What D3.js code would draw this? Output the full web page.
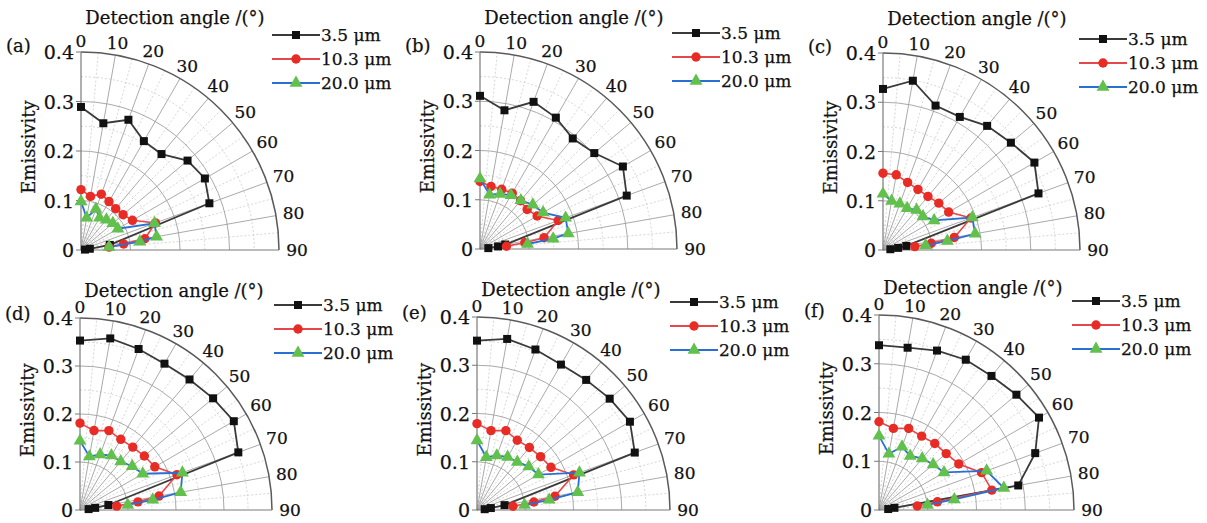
<!DOCTYPE html>
<html>
<head>
<meta charset="utf-8">
<script src="https://cdn.jsdelivr.net/npm/d3@7"></script>
<style>
  body { margin: 0; background: #fff; }
  text { font-family: "DejaVu Serif", serif; fill: #111; stroke: #111; stroke-width: 0.25; }
</style>
</head>
<body>
<svg id="chart" width="1207" height="523"></svg>
<script>
// Detection angles (deg), shared by every series
const angles = [0, 10, 20, 30, 40, 50, 60, 70, 80, 82, 84];
const wavelengths = ["3.5 μm", "10.3 μm", "20.0 μm"];
const panelNames = ["(a)", "(b)", "(c)", "(d)", "(e)", "(f)"];
const angleTicks = [0, 10, 20, 30, 40, 50, 60, 70, 80, 90];
const radialTicks = [0, 0.1, 0.2, 0.3, 0.4];

// Emissivity per panel, rows = 3.5 / 10.3 / 20.0 um
const emisA = [
  [0.289, 0.260, 0.280, 0.254, 0.253, 0.281, 0.289, 0.276, 0.059, 0.018, 0.008],
  [0.122, 0.110, 0.120, 0.113, 0.109, 0.111, 0.120, 0.160, 0.131, 0.087, 0.057],
  [0.098, 0.066, 0.088, 0.075, 0.080, 0.084, 0.086, 0.158, 0.155, 0.120, 0.057]
];
const emisB = [
  [0.311, 0.286, 0.318, 0.308, 0.293, 0.303, 0.335, 0.317, 0.052, 0.037, 0.017],
  [0.137, 0.129, 0.129, 0.131, 0.128, 0.125, 0.134, 0.169, 0.132, 0.092, 0.054],
  [0.143, 0.112, 0.119, 0.126, 0.129, 0.140, 0.148, 0.185, 0.182, 0.150, 0.097]
];
const emisC = [
  [0.327, 0.349, 0.312, 0.312, 0.329, 0.339, 0.355, 0.336, 0.048, 0.031, 0.015],
  [0.156, 0.155, 0.146, 0.142, 0.142, 0.148, 0.154, 0.190, 0.147, 0.099, 0.065],
  [0.114, 0.101, 0.100, 0.098, 0.106, 0.106, 0.120, 0.193, 0.190, 0.132, 0.087]
];
const emisD = [
  [0.353, 0.363, 0.357, 0.352, 0.355, 0.362, 0.370, 0.351, 0.060, 0.032, 0.018],
  [0.181, 0.168, 0.176, 0.170, 0.171, 0.175, 0.180, 0.215, 0.167, 0.122, 0.077],
  [0.144, 0.113, 0.123, 0.131, 0.132, 0.142, 0.151, 0.227, 0.213, 0.153, 0.100]
];
const emisE = [
  [0.351, 0.360, 0.354, 0.348, 0.352, 0.359, 0.366, 0.348, 0.058, 0.029, 0.016],
  [0.179, 0.167, 0.175, 0.167, 0.169, 0.172, 0.177, 0.213, 0.164, 0.119, 0.075],
  [0.144, 0.111, 0.120, 0.127, 0.130, 0.140, 0.147, 0.226, 0.212, 0.151, 0.099]
];
const emisF = [
  [0.338, 0.338, 0.348, 0.356, 0.359, 0.368, 0.379, 0.341, 0.290, 0.032, 0.019],
  [0.181, 0.170, 0.178, 0.175, 0.178, 0.180, 0.189, 0.224, 0.235, 0.121, 0.079],
  [0.152, 0.117, 0.138, 0.128, 0.138, 0.145, 0.154, 0.235, 0.260, 0.156, 0.100]
];

// layout of the six small plots
const panels = [
  { data: emisA, x: 81,  y: 250, R: 198, legX: 272,  legY: 35 },
  { data: emisB, x: 480, y: 249, R: 197, legX: 672,  legY: 33 },
  { data: emisC, x: 883, y: 250, R: 197, legX: 1079, legY: 39 },
  { data: emisD, x: 80,  y: 510, R: 192, legX: 274,  legY: 305 },
  { data: emisE, x: 477, y: 510, R: 193, legX: 670,  legY: 302 },
  { data: emisF, x: 879, y: 510, R: 195, legX: 1072, legY: 301 }
];

const lineColors = ["#3a3a3a", "#e5484a", "#2a6fd3"];
const markColors = ["#111111", "#e82c25", "#62c04c"];
const symbols = [d3.symbolSquare, d3.symbolCircle, d3.symbolTriangle];
const symSizes = [64, 70, 72];

const svg = d3.select("#chart");
const rad = d3.scaleLinear().domain([0, 90]).range([0, Math.PI / 2]);

function quarter(r) {
  const p = d3.path();
  p.moveTo(0, -r);
  p.arc(0, 0, r, -Math.PI / 2, 0);
  return p.toString();
}

panels.forEach(function(pn, i) {
  const rScale = d3.scaleLinear().domain([0, 0.4]).range([0, pn.R]);
  const g = svg.append("g").attr("transform", "translate(" + pn.x + "," + pn.y + ")");

  // dotted minor circles and radial lines
  [0.05, 0.15, 0.25, 0.35].forEach(function(v) {
    g.append("path").attr("d", quarter(rScale(v)))
      .attr("fill", "none").attr("stroke", "#c4c4c4")
      .attr("stroke-width", 0.7).attr("stroke-dasharray", "2,2");
  });
  d3.range(5, 90, 10).forEach(function(a) {
    const p = d3.pointRadial(rad(a), pn.R);
    g.append("line").attr("x1", 0).attr("y1", 0).attr("x2", p[0]).attr("y2", p[1])
      .attr("stroke", "#c4c4c4").attr("stroke-width", 0.7).attr("stroke-dasharray", "2,2");
  });

  // major grid
  [0.1, 0.2, 0.3].forEach(function(v) {
    g.append("path").attr("d", quarter(rScale(v)))
      .attr("fill", "none").attr("stroke", "#a0a0a0").attr("stroke-width", 0.9);
  });
  angleTicks.slice(1, -1).forEach(function(a) {
    const p = d3.pointRadial(rad(a), pn.R);
    g.append("line").attr("x1", 0).attr("y1", 0).attr("x2", p[0]).attr("y2", p[1])
      .attr("stroke", "#a0a0a0").attr("stroke-width", 0.9);
  });

  // outer arc and axes
  g.append("path").attr("d", quarter(pn.R))
    .attr("fill", "none").attr("stroke", "#5a5a5a").attr("stroke-width", 1.5);
  g.append("line").attr("x1", 0).attr("y1", 0).attr("x2", 0).attr("y2", -pn.R)
    .attr("stroke", "#7a7a7a").attr("stroke-width", 1.2);
  g.append("line").attr("x1", 0).attr("y1", 0).attr("x2", pn.R).attr("y2", 0)
    .attr("stroke", "#7a7a7a").attr("stroke-width", 1.2);

  // radial axis ticks + labels
  radialTicks.forEach(function(v) {
    g.append("line").attr("x1", -5).attr("x2", 0)
      .attr("y1", -rScale(v)).attr("y2", -rScale(v))
      .attr("stroke", "#7a7a7a").attr("stroke-width", 1);
    g.append("text").attr("x", -7).attr("y", -rScale(v))
      .attr("text-anchor", "end").attr("dominant-baseline", "central")
      .style("font-size", "19px")
      .text(v === 0 ? "0" : d3.format(".1f")(v));
  });

  // angle labels
  angleTicks.forEach(function(a) {
    const p = d3.pointRadial(rad(a), pn.R + 11 + 7 * Math.sin(rad(a)));
    g.append("text").attr("x", p[0]).attr("y", p[1])
      .attr("text-anchor", "middle").attr("dominant-baseline", "central")
      .style("font-size", "17px").text(a);
  });

  // titles
  g.append("text").attr("x", 94).attr("y", -pn.R - 33 + (i < 3 ? -2 : 5))
    .attr("text-anchor", "middle").attr("dominant-baseline", "central")
    .style("font-size", "18px").text("Detection angle /(°)");
  g.append("text").attr("x", -75).attr("y", -pn.R + 5 + (i < 3 ? -12 : -10))
    .attr("dominant-baseline", "central")
    .style("font-size", "18px").text(panelNames[i]);
  g.append("text")
    .attr("transform", "translate(" + (-53) + "," + (-pn.R * 0.52) + ") rotate(-90)")
    .attr("text-anchor", "middle").attr("dominant-baseline", "central")
    .style("font-size", "18px").text("Emissivity");

  // series
  const line = d3.lineRadial()
    .angle(function(d) { return rad(d[0]); })
    .radius(function(d) { return rScale(d[1]); });

  pn.data.forEach(function(vals, s) {
    const pts = angles.map(function(a, k) { return [a, vals[k]]; });
    g.append("path").datum(pts).attr("d", line)
      .attr("fill", "none").attr("stroke", lineColors[s])
      .attr("stroke-width", s === 1 ? 1.6 : 1.8);
    g.selectAll(".m" + s).data(pts).enter()
      .append("path").attr("class", "m" + s)
      .attr("d", d3.symbol().type(symbols[s]).size(symSizes[s]))
      .attr("transform", function(d) {
        const p = d3.pointRadial(rad(d[0]), rScale(d[1]));
        return "translate(" + p[0] + "," + p[1] + ")";
      })
      .attr("fill", markColors[s]);
  });

  // legend
  const leg = svg.append("g").attr("transform", "translate(" + pn.legX + "," + pn.legY + ")");
  wavelengths.forEach(function(w, s) {
    const yy = s * 24;
    leg.append("line").attr("x1", 0).attr("x2", 48).attr("y1", yy).attr("y2", yy)
      .attr("stroke", lineColors[s]).attr("stroke-width", 1.8);
    leg.append("path").attr("d", d3.symbol().type(symbols[s]).size(symSizes[s]))
      .attr("transform", "translate(24," + yy + ")").attr("fill", markColors[s]);
    leg.append("text").attr("x", 49).attr("y", yy)
      .attr("dominant-baseline", "central").style("font-size", "17px").text(w);
  });
});
</script>
</body>
</html>
